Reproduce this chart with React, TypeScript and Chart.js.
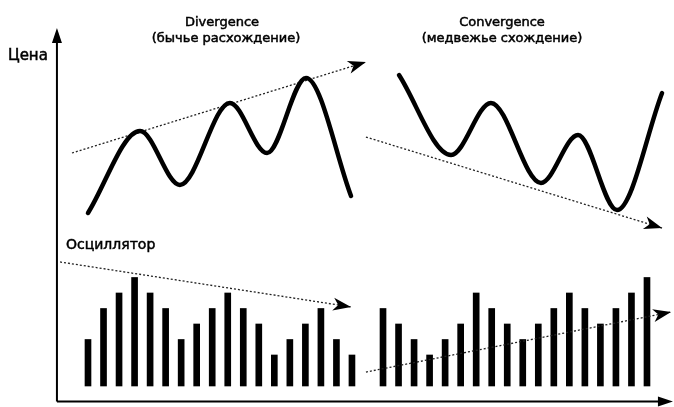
import React, { useEffect, useRef } from "react";
import { Chart, registerables } from "chart.js";

Chart.register(...registerables);

// Oscillator bars (slot index -> height), slot 18 is the empty gap
const barLeft = [3, 5, 6, 7, 6, 5, 3, 4, 5, 6, 5, 4, 2, 3, 4, 5, 3, 2];
const barRight = [5, 4, 3, 2, 3, 4, 6, 5, 4, 3, 4, 5, 6, 5, 4, 5, 6, 7];
const gapSlot = 18;

// Price curves (turning points)
const divergenceX = [0, 3.35, 5.92, 9.14, 11.53, 14.04, 16.94];
const divergenceY = [11.16, 16.45, 12.97, 18.26, 15.03, 19.87, 12.26];
const convergenceX = [20.03, 23.38, 25.95, 29.17, 31.56, 34.07, 36.97];
const convergenceY = [20.06, 14.9, 18.26, 13.1, 16.19, 11.35, 18.9];

// Trend lines [start, end]
const priceTrendUp = [[-1.03, 15.03], [17.9, 20.9]];
const priceTrendDown = [[17.9, 16.06], [36.97, 10.19]];
const oscTrendDown = [[-1.8, 8.0], [16.94, 5.1]];
const oscTrendUp = [[17.9, 0.9], [37.55, 4.77]];

// Axes
const axisOrigin = [-2, -1];
const yAxisTop = 23.1;
const xAxisEnd = 37.67;

const titleLeft = ["Divergence", "(бычье расхождение)"];
const titleRight = ["Convergence", "(медвежье схождение)"];
const yLabel = "Цена";
const oscLabel = "Осциллятор";

function buildBars() {
  const pts: { x: number; y: number }[] = [];
  barLeft.forEach((v, i) => pts.push({ x: i, y: v }));
  barRight.forEach((v, i) => pts.push({ x: gapSlot + 1 + i, y: v }));
  return pts;
}

function zipXY(xs: number[], ys: number[]) {
  return xs.map((x, i) => ({ x, y: ys[i] }));
}

function pairToPts(p: number[][]) {
  return p.map(([x, y]) => ({ x, y }));
}

function drawArrow(ctx: CanvasRenderingContext2D, x1: number, y1: number, x2: number, y2: number, L: number, W: number, notch: number) {
  const a = Math.atan2(y2 - y1, x2 - x1);
  const dx = Math.cos(a), dy = Math.sin(a);
  const nx = -dy, ny = dx;
  ctx.beginPath();
  ctx.moveTo(x2, y2);
  ctx.lineTo(x2 - L * dx + W * nx, y2 - L * dy + W * ny);
  ctx.lineTo(x2 - L * notch * dx, y2 - L * notch * dy);
  ctx.lineTo(x2 - L * dx - W * nx, y2 - L * dy - W * ny);
  ctx.closePath();
  ctx.fill();
}

function boldText(ctx: CanvasRenderingContext2D, t: string, x: number, y: number) {
  ctx.fillText(t, x, y);
  ctx.strokeText(t, x, y);
}

const overlay = {
  id: "overlay",
  afterDatasetsDraw(chart: any) {
    const { ctx, scales } = chart;
    const px = (v: number) => scales.x.getPixelForValue(v);
    const py = (v: number) => scales.y.getPixelForValue(v);
    ctx.save();
    ctx.fillStyle = "#000";
    ctx.strokeStyle = "#000";
    ctx.lineWidth = 2;
    const ox = px(axisOrigin[0]);
    const oy = py(axisOrigin[1]);
    const ty = py(yAxisTop);
    const ex = px(xAxisEnd);
    ctx.beginPath();
    ctx.moveTo(ox, oy);
    ctx.lineTo(ox, ty + 10);
    ctx.moveTo(ox, oy);
    ctx.lineTo(ex - 10, oy);
    ctx.stroke();
    drawArrow(ctx, ox, oy, ox, ty, 15, 5, 1);
    drawArrow(ctx, ox, oy, ex, oy, 15, 5, 1);

    // arrowheads on trend lines
    chart.data.datasets.forEach((ds: any) => {
      if (!ds.arrow) return;
      const d = ds.data;
      const a = d[d.length - 2], b = d[d.length - 1];
      drawArrow(ctx, px(a.x), py(a.y), px(b.x), py(b.y), 18, 6.5, 0.72);
    });

    ctx.textBaseline = "alphabetic";
    ctx.lineWidth = 0.5;
    ctx.font = '13px "DejaVu Sans"';
    ctx.textAlign = "center";
    boldText(ctx, titleLeft[0], 222, 26);
    boldText(ctx, titleLeft[1], 226, 42);
    boldText(ctx, titleRight[0], 502, 26);
    boldText(ctx, titleRight[1], 502, 42);
    ctx.textAlign = "left";
    ctx.font = '15px "DejaVu Sans"';
    boldText(ctx, yLabel, 8, 60);
    ctx.font = '14px "DejaVu Sans"';
    boldText(ctx, oscLabel, 66, 249);
    ctx.restore();
  },
};

export default function App() {
  const ref = useRef<HTMLCanvasElement | null>(null);
  useEffect(() => {
    document.body.style.margin = "0";
    const canvas = ref.current;
    if (!canvas) return;
    const trend = (pts: number[][]) => ({
      type: "line" as const,
      data: pairToPts(pts),
      borderColor: "#222",
      borderWidth: 1.3,
      borderDash: [2, 2],
      pointRadius: 0,
      fill: false,
      arrow: true,
      order: 0,
    });
    const curve = (xs: number[], ys: number[]) => ({
      type: "line" as const,
      data: zipXY(xs, ys),
      borderColor: "#000",
      borderWidth: 4.5,
      borderCapStyle: "round" as const,
      borderJoinStyle: "round" as const,
      cubicInterpolationMode: "monotone" as const,
      pointRadius: 0,
      fill: false,
      order: 0,
    });
    const chart = new Chart(canvas, {
      type: "bar",
      data: {
        datasets: [
          {
            type: "bar",
            data: buildBars(),
            backgroundColor: "#000",
            barThickness: 6,
            order: 1,
          } as any,
          curve(divergenceX, divergenceY) as any,
          curve(convergenceX, convergenceY) as any,
          trend(priceTrendUp) as any,
          trend(priceTrendDown) as any,
          trend(oscTrendDown) as any,
          trend(oscTrendUp) as any,
        ],
      },
      options: {
        animation: false,
        responsive: false,
        maintainAspectRatio: false,
        layout: { padding: 0 },
        plugins: { legend: { display: false }, tooltip: { enabled: false } },
        scales: {
          x: { type: "linear", offset: false, min: -5.667, max: 37.74, display: false },
          y: { type: "linear", min: -1.355, max: 24.9, display: false },
        },
      },
      plugins: [overlay],
    });
    return () => chart.destroy();
  }, []);
  return (
    <div style={{ position: "absolute", left: 0, top: 0, width: 674, height: 407, background: "#fff" }}>
      <canvas ref={ref} width={674} height={407} style={{ display: "block", width: 674, height: 407 }} />
    </div>
  );
}
